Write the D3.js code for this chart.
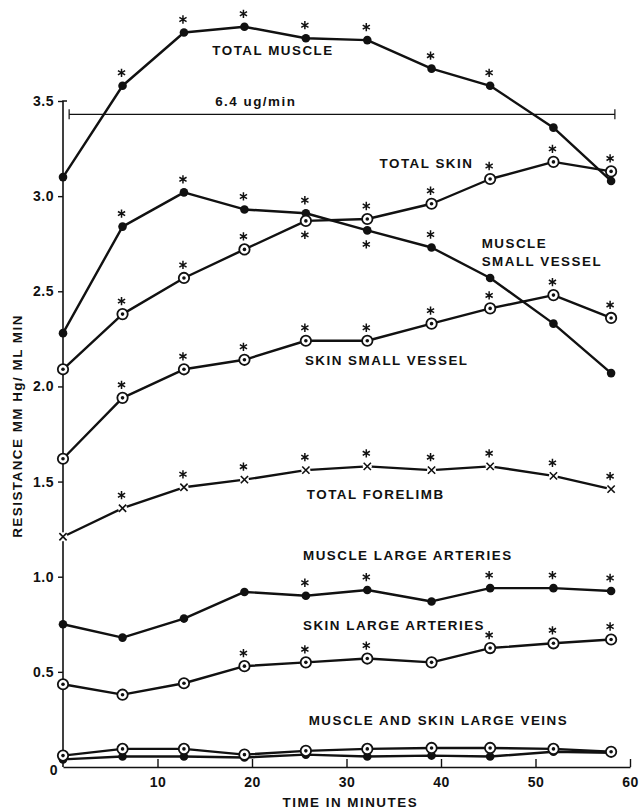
<!DOCTYPE html>
<html>
<head>
<meta charset="utf-8">
<script src="https://cdn.jsdelivr.net/npm/d3@7"></script>
<style>
  html, body { margin: 0; padding: 0; background: #fff; }
  svg { display: block; }
  text { font-family: "Liberation Sans", Arial, Helvetica, sans-serif; font-weight: bold; fill: #111; }
</style>
</head>
<body>
<div id="chart"></div>
<script>
// ---------- DATA ----------
const times = [0, 6.3, 12.8, 19.2, 25.7, 32.2, 39, 45.2, 51.9, 58];

const totalMuscle         = [3.10, 3.58, 3.86, 3.89, 3.83, 3.82, 3.67, 3.58, 3.36, 3.08];
const muscleSmallVessel   = [2.28, 2.84, 3.02, 2.93, 2.91, 2.82, 2.73, 2.57, 2.33, 2.07];
const totalSkin           = [2.09, 2.38, 2.57, 2.72, 2.87, 2.88, 2.96, 3.09, 3.18, 3.13];
const skinSmallVessel     = [1.62, 1.94, 2.09, 2.14, 2.24, 2.24, 2.33, 2.41, 2.48, 2.36];
const totalForelimb       = [1.21, 1.36, 1.47, 1.51, 1.56, 1.58, 1.56, 1.58, 1.53, 1.46];
const muscleLargeArteries = [0.75, 0.68, 0.78, 0.92, 0.90, 0.93, 0.87, 0.94, 0.94, 0.925];
const skinLargeArteries   = [0.435, 0.38, 0.44, 0.53, 0.55, 0.57, 0.55, 0.625, 0.65, 0.67];
const skinLargeVeins      = [0.06, 0.095, 0.095, 0.065, 0.085, 0.095, 0.10, 0.10, 0.095, 0.08];
const muscleLargeVeins    = [0.04, 0.055, 0.055, 0.05, 0.065, 0.055, 0.06, 0.055, 0.08, 0.075];

// significance asterisks: 1 = above point, -1 = below point, 0 = none
const sigTotalMuscle         = [0, 1, 1, 1, 1, 1, 1, 1, 0, 0];
const sigMuscleSmallVessel   = [0, 1, 1, 1, 1, -1, 1, 0, 0, 0];
const sigTotalSkin           = [0, 1, 1, 1, -1, 1, 1, 1, 1, 1];
const sigSkinSmallVessel     = [0, 1, 1, 1, 1, 1, 1, 1, 1, 1];
const sigTotalForelimb       = [0, 1, 1, 1, 1, 1, 1, 1, 1, 1];
const sigMuscleLargeArteries = [0, 0, 0, 0, 1, 1, 0, 1, 1, 1];
const sigSkinLargeArteries   = [0, 0, 0, 1, 1, 1, 0, 1, 1, 1];
const sigNone                = [0, 0, 0, 0, 0, 0, 0, 0, 0, 0];

const xTicks = [10, 20, 30, 40, 50, 60];
const yTicks = [0, 0.5, 1.0, 1.5, 2.0, 2.5, 3.0, 3.5];
const yTickLabels = ["0", "0.5", "1.0", "1.5", "2.0", "2.5", "3.0", "3.5"];

const infusion = [0.65, 58.4];        // minutes of 6.4 ug/min infusion
const infusionLabel = "6.4 ug/min";

const xTitle = "TIME IN MINUTES";
const yTitle = "RESISTANCE MM Hg/ ML MIN";

// series table built from the arrays above
const series = [
  { name: "TOTAL MUSCLE",          values: totalMuscle,         sig: sigTotalMuscle,         marker: "dot"  },
  { name: "MUSCLE SMALL VESSEL",   values: muscleSmallVessel,   sig: sigMuscleSmallVessel,   marker: "dot"  },
  { name: "TOTAL SKIN",            values: totalSkin,           sig: sigTotalSkin,           marker: "ring" },
  { name: "SKIN SMALL VESSEL",     values: skinSmallVessel,     sig: sigSkinSmallVessel,     marker: "ring" },
  { name: "TOTAL FORELIMB",        values: totalForelimb,       sig: sigTotalForelimb,       marker: "x"    },
  { name: "MUSCLE LARGE ARTERIES", values: muscleLargeArteries, sig: sigMuscleLargeArteries, marker: "dot"  },
  { name: "SKIN LARGE ARTERIES",   values: skinLargeArteries,   sig: sigSkinLargeArteries,   marker: "ring" },
  { name: "MUSCLE LARGE VEINS",    values: muscleLargeVeins,    sig: sigNone,                marker: "dot"  },
  { name: "SKIN LARGE VEINS",      values: skinLargeVeins,      sig: sigNone,                marker: "ring" }
];

// label annotations (text lines; placement in layout section)
const labelTexts = [
  ["TOTAL MUSCLE"],
  ["TOTAL SKIN"],
  ["MUSCLE", "SMALL VESSEL"],
  ["SKIN SMALL VESSEL"],
  ["TOTAL FORELIMB"],
  ["MUSCLE LARGE ARTERIES"],
  ["SKIN LARGE ARTERIES"],
  ["MUSCLE AND SKIN LARGE VEINS"]
];

// ---------- LAYOUT ----------
const W = 639, H = 809;
const svg = d3.select("#chart").append("svg").attr("width", W).attr("height", H);

const x = d3.scaleLinear().domain([0, 60]).range([63, 630]);
const y = d3.scaleLinear().domain([0, 3.5]).range([767, 101]);

// label anchor points in data space (minutes, resistance)
const labelPos = [
  [15.8, 3.74],
  [33.5, 3.15],
  [44.3, 2.73],
  [25.6, 2.11],
  [25.8, 1.41],
  [25.4, 1.09],
  [25.4, 0.72],
  [26.0, 0.22]
];

const txtStyle = sel => sel.attr("font-size", 13.4).attr("letter-spacing", "1.5px");

// Y axis
const yAxis = d3.axisLeft(y).tickValues(yTicks).tickSize(5).tickSizeOuter(0)
  .tickFormat((d, i) => yTickLabels[i]).tickPadding(4);
const gy = svg.append("g").attr("transform", `translate(${x(0)},0)`).call(yAxis);
gy.select(".domain").attr("stroke", "#111").attr("stroke-width", 1.6)
  .attr("d", `M4,${y(3.5)}H0V${y(0)}`);
gy.selectAll(".tick line").attr("stroke", "#111").attr("stroke-width", 1.4)
  .attr("x2", d => d === 0 ? 0 : -5);
gy.selectAll(".tick text").call(txtStyle).attr("font-size", 14).attr("letter-spacing", "0.5px")
  .style("font-family", "'Liberation Sans', Arial, sans-serif").style("font-weight", "bold").attr("fill", "#111")
  .attr("dy", d => d === 0 ? "0.55em" : "0.32em")
  .attr("dx", d => d === 0 ? 4 : 0);

// X axis
const xAxis = d3.axisBottom(x).tickValues(xTicks).tickSize(0).tickSizeOuter(0).tickPadding(10);
const gx = svg.append("g").attr("transform", `translate(0,${y(0)})`).call(xAxis);
gx.select(".domain").attr("stroke", "#111").attr("stroke-width", 1.6);
gx.selectAll(".tick").append("line").attr("y1", 0).attr("y2", -8).attr("stroke", "#111").attr("stroke-width", 1.4);
gx.selectAll(".tick text").call(txtStyle).attr("font-size", 14).attr("letter-spacing", "0.5px")
  .style("font-family", "'Liberation Sans', Arial, sans-serif").style("font-weight", "bold").attr("fill", "#111");

// axis titles
svg.append("text").text(xTitle).call(txtStyle)
  .attr("x", x(30.4)).attr("y", 807).attr("text-anchor", "middle");
svg.append("text").text(yTitle).call(txtStyle)
  .attr("transform", `translate(22,${426}) rotate(-90)`).attr("text-anchor", "middle");

// infusion bar
const infY = y(3.43);
const ig = svg.append("g").attr("stroke", "#111").attr("stroke-width", 1.2);
ig.append("line").attr("x1", x(infusion[0])).attr("x2", x(infusion[1])).attr("y1", infY).attr("y2", infY);
infusion.forEach(t => ig.append("line").attr("x1", x(t)).attr("x2", x(t)).attr("y1", infY - 5).attr("y2", infY + 5));
svg.append("text").text(infusionLabel).call(txtStyle)
  .attr("x", x(20.4)).attr("y", infY - 8).attr("text-anchor", "middle");

// lines + markers
const line = d3.line().x((d, i) => x(times[i])).y(d => y(d));
const star = d3.symbol().type(d3.symbolAsterisk || d3.symbolCross).size(48);

series.forEach(s => {
  const g = svg.append("g");
  g.append("path").datum(s.values).attr("d", line)
    .attr("fill", "none").attr("stroke", "#111").attr("stroke-width", 2.4).attr("stroke-linejoin", "round");

  const pts = g.selectAll("g.pt").data(s.values).join("g")
    .attr("transform", (d, i) => `translate(${x(times[i])},${y(d)})`);

  if (s.marker === "dot") {
    pts.append("circle").attr("r", 4.3).attr("fill", "#111");
  } else if (s.marker === "ring") {
    pts.append("circle").attr("r", 5.2).attr("fill", "#fff").attr("stroke", "#111").attr("stroke-width", 1.8);
    pts.append("circle").attr("r", 1.8).attr("fill", "#111");
  } else {
    pts.append("circle").attr("r", 4.5).attr("fill", "#fff");
    pts.append("path").attr("d", d3.symbol().type(d3.symbolTimes || d3.symbolCross).size(36)())
      .attr("fill", "none").attr("stroke", "#111").attr("stroke-width", 1.6);
  }

  g.selectAll("path.sig").data(s.values.map((v, i) => ({ v, i, dir: s.sig[i] })).filter(d => d.dir !== 0))
    .join("path").attr("class", "sig")
    .attr("d", star())
    .attr("transform", d => `translate(${x(times[d.i]) - 1},${y(d.v) + (d.dir > 0 ? -13 : 14)})`)
    .attr("fill", "none").attr("stroke", "#111").attr("stroke-width", 1.5);
});

// series labels
labelTexts.forEach((lines, k) => {
  const t = svg.append("text").call(txtStyle)
    .attr("x", x(labelPos[k][0])).attr("y", y(labelPos[k][1]));
  lines.forEach((ln, j) => t.append("tspan").attr("x", x(labelPos[k][0])).attr("dy", j === 0 ? 0 : 18).text(ln));
});
</script>
</body>
</html>
